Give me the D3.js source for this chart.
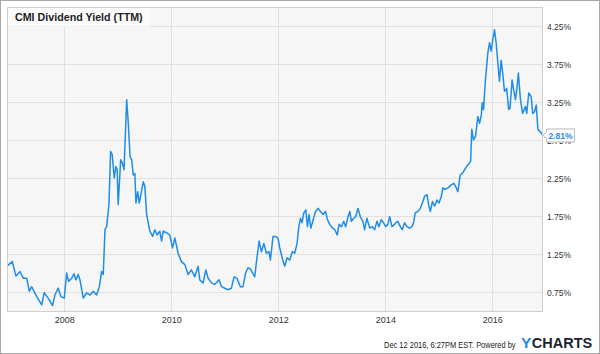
<!DOCTYPE html>
<html>
<head>
<meta charset="utf-8">
<script src="https://cdn.jsdelivr.net/npm/d3@7"></script>
<style>
  body { margin: 0; background: #fff; }
  svg { display: block; }
</style>
</head>
<body>
<svg id="chart"></svg>
<script>
const title = 'CMI Dividend Yield (TTM)';
const footerText = 'Dec 12 2016, 6:27PM EST. Powered by';
const lastLabel = '2.81%';

const yTicks = [0.75, 1.25, 1.75, 2.25, 2.75, 3.25, 3.75, 4.25];
const xTickYears = [2008, 2010, 2012, 2014, 2016];

const dates = [
  '2006-12-06','2007-01-11','2007-02-05','2007-03-05','2007-03-28','2007-04-20','2007-05-07','2007-05-23',
  '2007-06-27','2007-07-31','2007-08-17','2007-09-13','2007-10-13','2007-10-29','2007-11-21','2007-12-09',
  '2008-01-01','2008-01-17','2008-01-30','2008-02-20','2008-03-07','2008-03-20','2008-04-05','2008-04-17',
  '2008-05-10','2008-06-02','2008-06-25','2008-07-17','2008-08-09','2008-08-27','2008-09-12','2008-09-23',
  '2008-10-05','2008-10-16','2008-11-01','2008-11-12','2008-11-23','2008-12-07','2008-12-18','2008-12-27',
  '2009-01-03','2009-01-20','2009-01-31','2009-02-12','2009-03-02','2009-03-13','2009-03-25','2009-04-05',
  '2009-04-16','2009-04-27','2009-05-04','2009-05-16','2009-05-27','2009-06-07','2009-06-23','2009-07-04',
  '2009-07-16','2009-08-07','2009-08-26','2009-09-10','2009-09-26','2009-10-14','2009-10-26','2009-11-06',
  '2009-11-29','2009-12-21','2010-01-09','2010-01-25','2010-02-16','2010-03-11','2010-04-03','2010-04-25',
  '2010-05-18','2010-06-10','2010-07-02','2010-07-14','2010-08-06','2010-08-24','2010-09-09','2010-10-02',
  '2010-10-24','2010-11-23','2010-12-09','2011-01-01','2011-01-23','2011-02-15','2011-03-05','2011-03-25',
  '2011-04-17','2011-05-05','2011-05-23','2011-06-08','2011-06-25','2011-07-24','2011-08-05','2011-08-23',
  '2011-09-08','2011-09-24','2011-10-12','2011-10-30','2011-11-08','2011-11-26','2011-12-14','2011-12-30',
  '2012-01-11','2012-02-03','2012-02-14','2012-03-01','2012-03-19','2012-04-06','2012-04-22','2012-05-08',
  '2012-05-19','2012-05-31','2012-06-11','2012-06-23','2012-07-07','2012-07-18','2012-07-29','2012-08-10',
  '2012-08-26','2012-09-11','2012-09-29','2012-10-15','2012-11-02','2012-11-18','2012-12-02','2012-12-17',
  '2013-01-05','2013-01-21','2013-02-06','2013-02-19','2013-03-07','2013-03-23','2013-04-05','2013-04-21',
  '2013-05-03','2013-05-14','2013-05-30','2013-06-12','2013-06-28','2013-07-14','2013-08-01','2013-08-12',
  '2013-08-28','2013-09-16','2013-10-04','2013-10-20','2013-11-04','2013-11-18','2013-12-04','2013-12-20',
  '2014-01-03','2014-01-18','2014-01-30','2014-02-15','2014-03-05','2014-03-11','2014-03-27','2014-04-13',
  '2014-04-26','2014-05-12','2014-05-28','2014-06-15','2014-07-01','2014-07-12','2014-07-24','2014-08-11',
  '2014-08-27','2014-09-14','2014-09-26','2014-10-12','2014-10-25','2014-11-04','2014-11-18','2014-12-03',
  '2014-12-19','2015-01-02','2015-01-18','2015-01-29','2015-02-10','2015-03-04','2015-03-27','2015-04-14',
  '2015-04-30','2015-05-11','2015-05-27','2015-06-14','2015-07-02','2015-07-18','2015-08-06','2015-08-14',
  '2015-08-26','2015-09-09','2015-09-24','2015-10-06','2015-10-18','2015-10-24','2015-11-02','2015-11-15',
  '2015-12-01','2015-12-13','2015-12-24','2016-01-04','2016-01-16','2016-01-27','2016-02-08','2016-02-19',
  '2016-03-01','2016-03-12','2016-03-24','2016-04-08','2016-04-22','2016-05-01','2016-05-15','2016-05-26',
  '2016-06-07','2016-06-18','2016-06-27','2016-07-11','2016-07-26','2016-08-14','2016-08-23','2016-09-06',
  '2016-09-22','2016-10-03','2016-10-15','2016-10-27','2016-11-07','2016-11-23','2016-12-12'
];

const yields = [
  1.09,1.15,0.96,1.02,0.93,0.93,0.76,0.82,
  0.69,0.58,0.74,0.67,0.57,0.71,0.80,0.69,
  0.67,1.00,0.89,0.93,0.99,0.91,0.98,0.91,
  0.67,0.74,0.71,0.76,0.71,0.82,1.02,0.98,
  1.57,1.61,1.90,2.60,2.56,2.25,2.40,2.36,
  1.90,2.49,2.45,2.36,3.28,2.97,2.53,2.49,
  2.29,2.31,1.92,2.07,1.92,2.03,2.20,2.14,
  1.77,1.55,1.48,1.57,1.50,1.55,1.42,1.55,
  1.53,1.50,1.33,1.46,1.26,1.15,1.11,0.98,
  1.04,0.95,1.09,0.91,0.87,1.04,0.93,0.87,
  0.85,0.91,0.82,0.80,0.78,0.80,0.95,0.93,
  0.82,0.82,1.00,1.07,1.05,0.95,1.15,1.42,
  1.28,1.39,1.26,1.28,1.17,1.48,1.48,1.46,
  1.33,1.15,1.09,1.20,1.17,1.28,1.26,1.39,
  1.59,1.72,1.66,1.79,1.83,1.61,1.77,1.59,
  1.70,1.81,1.85,1.81,1.77,1.81,1.70,1.64,
  1.59,1.57,1.50,1.64,1.61,1.68,1.61,1.74,
  1.81,1.68,1.72,1.74,1.85,1.74,1.68,1.57,
  1.72,1.59,1.61,1.57,1.68,1.61,1.70,1.66,
  1.61,1.64,1.74,1.61,1.64,1.66,1.68,1.61,
  1.57,1.66,1.61,1.59,1.61,1.66,1.79,1.81,
  1.85,1.94,2.01,2.03,1.88,1.81,1.94,1.88,
  1.96,1.92,2.01,2.12,2.10,2.12,2.16,2.18,
  2.12,2.07,2.29,2.32,2.38,2.42,2.47,2.89,
  2.75,2.80,3.06,2.97,3.08,3.24,3.15,3.54,
  3.89,4.03,3.92,4.07,4.20,4.03,3.76,3.52,
  3.80,3.63,3.39,3.43,3.15,3.17,3.54,3.41,
  3.28,3.45,3.63,3.28,3.10,3.19,3.10,3.37,
  3.32,3.10,3.12,3.21,2.89,2.86,2.81
];

const W = 600, H = 354;
const plot = { left: 7, right: 543, top: 7, bottom: 311 };
const blue = '#1f8de8';
const sans = 'Arial, "Liberation Sans", sans-serif';

const parse = d3.timeParse('%Y-%m-%d');
const data = dates.map((d, i) => ({ date: parse(d), value: yields[i] }));

const x = d3.scaleTime()
    .domain(d3.extent(data, d => d.date))
    .range([plot.left, plot.right]);

const y = d3.scaleLinear()
    .domain([0.5, 4.5])
    .range([plot.bottom, plot.top]);

const svg = d3.select('#chart')
    .attr('width', W)
    .attr('height', H);

// outer frame
svg.append('rect')
    .attr('x', 0.5).attr('y', 0.5)
    .attr('width', W - 1).attr('height', H - 1)
    .attr('fill', '#fff')
    .attr('stroke', '#a8a8a8');

// plot background
svg.append('rect')
    .attr('x', plot.left).attr('y', plot.top)
    .attr('width', plot.right - plot.left)
    .attr('height', plot.bottom - plot.top)
    .attr('fill', '#f6f6f6');

const xTicks = xTickYears.map(yr => new Date(yr, 0, 1));

// grid
svg.append('g')
    .selectAll('line')
    .data(yTicks)
    .join('line')
    .attr('x1', plot.left).attr('x2', plot.right)
    .attr('y1', d => Math.round(y(d)) + 0.5)
    .attr('y2', d => Math.round(y(d)) + 0.5)
    .attr('stroke', '#e0e0e0');

svg.append('g')
    .selectAll('line')
    .data(xTicks)
    .join('line')
    .attr('x1', d => Math.round(x(d)) + 0.5)
    .attr('x2', d => Math.round(x(d)) + 0.5)
    .attr('y1', plot.top).attr('y2', plot.bottom)
    .attr('stroke', '#e0e0e0');

// title box
svg.append('rect')
    .attr('x', plot.left + 0.5).attr('y', plot.top + 0.5)
    .attr('width', 143).attr('height', 19)
    .attr('fill', '#fbfbfb');

svg.append('text')
    .attr('x', 15).attr('y', 21)
    .attr('font-family', sans)
    .attr('font-size', 10.7)
    .attr('font-weight', 'bold')
    .attr('fill', '#222')
    .text(title);

// the line
svg.append('path')
    .datum(data)
    .attr('fill', 'none')
    .attr('stroke', blue)
    .attr('stroke-width', 1.5)
    .attr('stroke-linejoin', 'round')
    .attr('d', d3.line()
        .x(d => x(d.date))
        .y(d => y(d.value)));

// plot border
svg.append('rect')
    .attr('x', plot.left + 0.5).attr('y', plot.top + 0.5)
    .attr('width', plot.right - plot.left - 1)
    .attr('height', plot.bottom - plot.top)
    .attr('fill', 'none')
    .attr('stroke', '#cfcfcf');

// axes
const yAxis = d3.axisRight(y)
    .tickValues(yTicks)
    .tickSize(0)
    .tickPadding(4)
    .tickFormat(d => d3.format('.2f')(d) + '%');

svg.append('g')
    .attr('transform', `translate(${plot.right},0)`)
    .call(yAxis)
    .call(g => g.select('.domain').remove())
    .call(g => g.selectAll('text')
        .attr('font-family', sans)
        .attr('font-size', 9.5)
        .attr('textLength', 24)
        .attr('lengthAdjust', 'spacingAndGlyphs')
        .attr('fill', '#333'));

const xAxis = d3.axisBottom(x)
    .tickValues(xTicks)
    .tickSize(0)
    .tickPadding(6)
    .tickFormat(d3.timeFormat('%Y'));

svg.append('g')
    .attr('transform', `translate(0,${plot.bottom})`)
    .call(xAxis)
    .call(g => g.select('.domain').remove())
    .call(g => g.selectAll('text')
        .attr('font-family', sans)
        .attr('font-size', 9)
        .attr('fill', '#333'));

// last value flag, drawn over the 2.75% tick label like the original
const last = data[data.length - 1];
const ly = y(last.value);
const flag = svg.append('g').attr('transform', `translate(${plot.right + 3},${ly})`);
flag.append('path')
    .attr('d', 'M0.5,-6.5 H28.5 V6.5 H0.5 V3 L-3,0 L0.5,-3 Z')
    .attr('fill', '#fff')
    .attr('stroke', '#bbb');
flag.append('text')
    .attr('x', 2.5).attr('y', 0)
    .attr('dy', '0.35em')
    .attr('font-family', sans)
    .attr('font-size', 9.5)
    .attr('font-weight', 'bold')
    .attr('textLength', 24)
    .attr('lengthAdjust', 'spacingAndGlyphs')
    .attr('fill', blue)
    .text(lastLabel);

// footer (squeezed horizontally, the original uses a narrow face)
svg.append('text')
    .attr('transform', 'translate(384,348) scale(0.83,1)')
    .attr('font-family', sans)
    .attr('font-size', 9)
    .attr('fill', '#222')
    .text(footerText);

const logoY = svg.append('text')
    .attr('x', 521).attr('y', 348)
    .attr('font-family', sans)
    .attr('font-size', 15.5)
    .attr('font-weight', 'bold')
    .attr('fill', blue)
    .text('Y');

svg.append('text')
    .attr('x', 521 + logoY.node().getComputedTextLength() + 0.5).attr('y', 348)
    .attr('font-family', sans)
    .attr('font-size', 14.5)
    .attr('font-weight', 'bold')
    .attr('fill', '#1b2431')
    .text('CHARTS');
</script>
</body>
</html>
